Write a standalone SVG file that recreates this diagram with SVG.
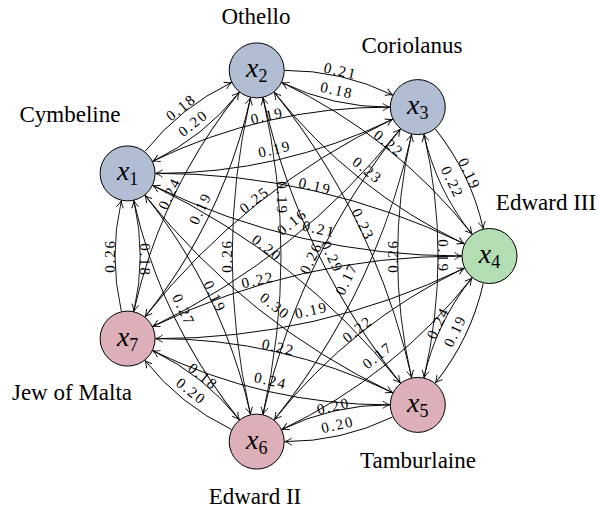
<svg xmlns="http://www.w3.org/2000/svg" width="597" height="510" viewBox="0 0 597 510">
<defs>
<style>
.e{fill:none;stroke:#000;stroke-width:0.9;marker-end:url(#arr)}
.w{font-family:"Liberation Serif",serif;font-size:15px;letter-spacing:1.8px;text-anchor:middle;fill:#000}
.nm{font-family:"Liberation Serif",serif;font-size:23px;text-anchor:middle;fill:#000}
.mx{font-family:"Liberation Serif",serif;font-size:28px;text-anchor:middle;fill:#000}
.mx .v{font-style:italic}
.mx .s{font-size:18px;font-style:normal}
.nd{stroke:#000;stroke-width:1}
.b{fill:#b1bdd3}
.g{fill:#b3ddb3}
.p{fill:#ddb0b9}
</style>
<marker id="arr" viewBox="-10 -6 12 12" markerWidth="12" markerHeight="12" refX="0" refY="0" orient="auto" markerUnits="userSpaceOnUse">
<path d="M-7,-3.6 C-4.5,-1.8 -1.6,-0.5 0,0 C-1.6,0.5 -4.5,1.8 -7,3.6" fill="none" stroke="#000" stroke-width="0.9"/>
</marker>
</defs>
<rect width="597" height="510" fill="#fff"/>
<g id="connectors">
<!-- k=1 pairs -->
<path class="e" d="M476.88 200.69 Q489.6 256 476.88 311.31" transform="rotate(25.71 299.1 256)"/>
<path class="e" d="M464.32 311.31 Q451.6 256 464.32 200.69" transform="rotate(25.71 299.1 256)"/>
<path class="e" d="M476.88 200.69 Q489.6 256 476.88 311.31" transform="rotate(77.14 299.1 256)"/>
<path class="e" d="M464.32 311.31 Q451.6 256 464.32 200.69" transform="rotate(77.14 299.1 256)"/>
<path class="e" d="M476.88 200.69 Q489.6 256 476.88 311.31" transform="rotate(128.57 299.1 256)"/>
<path class="e" d="M464.32 311.31 Q451.6 256 464.32 200.69" transform="rotate(128.57 299.1 256)"/>
<path class="e" d="M476.88 200.69 Q489.6 256 476.88 311.31" transform="rotate(180 299.1 256)"/>
<path class="e" d="M464.32 311.31 Q451.6 256 464.32 200.69" transform="rotate(180 299.1 256)"/>
<path class="e" d="M476.88 200.69 Q489.6 256 476.88 311.31" transform="rotate(231.43 299.1 256)"/>
<path class="e" d="M464.32 311.31 Q451.6 256 464.32 200.69" transform="rotate(231.43 299.1 256)"/>
<path class="e" d="M476.88 200.69 Q489.6 256 476.88 311.31" transform="rotate(282.86 299.1 256)"/>
<path class="e" d="M464.32 311.31 Q451.6 256 464.32 200.69" transform="rotate(282.86 299.1 256)"/>
<path class="e" d="M476.88 200.69 Q489.6 256 476.88 311.31" transform="rotate(334.29 299.1 256)"/>
<path class="e" d="M464.32 311.31 Q451.6 256 464.32 200.69" transform="rotate(334.29 299.1 256)"/>
<!-- k=2 pairs -->
<path class="e" d="M424.07 134.39 Q452 256 424.07 377.61" transform="rotate(51.43 299.1 256)"/>
<path class="e" d="M411.53 377.61 Q383.6 256 411.53 134.39" transform="rotate(51.43 299.1 256)"/>
<path class="e" d="M424.07 134.39 Q452 256 424.07 377.61" transform="rotate(102.86 299.1 256)"/>
<path class="e" d="M411.53 377.61 Q383.6 256 411.53 134.39" transform="rotate(102.86 299.1 256)"/>
<path class="e" d="M424.07 134.39 Q452 256 424.07 377.61" transform="rotate(154.29 299.1 256)"/>
<path class="e" d="M411.53 377.61 Q383.6 256 411.53 134.39" transform="rotate(154.29 299.1 256)"/>
<path class="e" d="M424.07 134.39 Q452 256 424.07 377.61" transform="rotate(205.71 299.1 256)"/>
<path class="e" d="M411.53 377.61 Q383.6 256 411.53 134.39" transform="rotate(205.71 299.1 256)"/>
<path class="e" d="M424.07 134.39 Q452 256 424.07 377.61" transform="rotate(257.14 299.1 256)"/>
<path class="e" d="M411.53 377.61 Q383.6 256 411.53 134.39" transform="rotate(257.14 299.1 256)"/>
<path class="e" d="M424.07 134.39 Q452 256 424.07 377.61" transform="rotate(308.57 299.1 256)"/>
<path class="e" d="M411.53 377.61 Q383.6 256 411.53 134.39" transform="rotate(308.57 299.1 256)"/>
<path class="e" d="M424.07 134.39 Q452 256 424.07 377.61"/>
<path class="e" d="M411.53 377.61 Q383.6 256 411.53 134.39"/>
<!-- k=3 pairs -->
<path class="e" d="M347.78 97.69 Q384.2 256 347.78 414.31" transform="rotate(77.14 299.1 256)"/>
<path class="e" d="M335.26 414.31 Q299.1 256 335.26 97.69" transform="rotate(77.14 299.1 256)"/>
<path class="e" d="M347.78 97.69 Q384.2 256 347.78 414.31" transform="rotate(128.57 299.1 256)"/>
<path class="e" d="M335.26 414.31 Q299.1 256 335.26 97.69" transform="rotate(128.57 299.1 256)"/>
<path class="e" d="M347.78 97.69 Q384.2 256 347.78 414.31" transform="rotate(180 299.1 256)"/>
<path class="e" d="M335.26 414.31 Q299.1 256 335.26 97.69" transform="rotate(180 299.1 256)"/>
<path class="e" d="M347.78 97.69 Q384.2 256 347.78 414.31" transform="rotate(231.43 299.1 256)"/>
<path class="e" d="M335.26 414.31 Q299.1 256 335.26 97.69" transform="rotate(231.43 299.1 256)"/>
<path class="e" d="M347.78 97.69 Q384.2 256 347.78 414.31" transform="rotate(282.86 299.1 256)"/>
<path class="e" d="M335.26 414.31 Q299.1 256 335.26 97.69" transform="rotate(282.86 299.1 256)"/>
<path class="e" d="M347.78 97.69 Q384.2 256 347.78 414.31" transform="rotate(334.29 299.1 256)"/>
<path class="e" d="M335.26 414.31 Q299.1 256 335.26 97.69" transform="rotate(334.29 299.1 256)"/>
<path class="e" d="M347.78 97.69 Q384.2 256 347.78 414.31" transform="rotate(25.71 299.1 256)"/>
<path class="e" d="M335.26 414.31 Q299.1 256 335.26 97.69" transform="rotate(25.71 299.1 256)"/>
</g>
<g id="edge-labels">
<text class="w" transform="translate(455 331) rotate(-64.29)" y="5">0.19</text>
<text class="w" transform="translate(438 323) rotate(-64.29)" y="5">0.24</text>
<text class="w" transform="translate(337.6 424.7) rotate(-12.86)" y="5">0.20</text>
<text class="w" transform="translate(333.4 406.1) rotate(-12.86)" y="5">0.20</text>
<text class="w" transform="translate(191.2 391.3) rotate(38.57)" y="5">0.20</text>
<text class="w" transform="translate(203.1 376.4) rotate(38.57)" y="5">0.18</text>
<text class="w" transform="translate(110.1 256) rotate(-90)" y="5">0.26</text>
<text class="w" transform="translate(145 260) rotate(90)" y="5">0.18</text>
<text class="w" transform="translate(181 107.5) rotate(-38.57)" y="5">0.18</text>
<text class="w" transform="translate(193.1 123.1) rotate(-38.57)" y="5">0.20</text>
<text class="w" transform="translate(340.5 71) rotate(12.86)" y="5">0.21</text>
<text class="w" transform="translate(336.9 90.3) rotate(12.86)" y="5">0.18</text>
<text class="w" transform="translate(469.4 174) rotate(64.29)" y="5">0.19</text>
<text class="w" transform="translate(452.3 182.2) rotate(64.29)" y="5">0.22</text>
<text class="w" transform="translate(377.5 355.5) rotate(-38.57)" y="5">0.17</text>
<text class="w" transform="translate(357.5 329.2) rotate(-38.57)" y="5">0.22</text>
<text class="w" transform="translate(270.7 380.6) rotate(12.86)" y="5">0.24</text>
<text class="w" transform="translate(278.3 347.3) rotate(12.86)" y="5">0.22</text>
<text class="w" transform="translate(183.5 310) rotate(64.29)" y="5">0.27</text>
<text class="w" transform="translate(214.8 296.6) rotate(64.29)" y="5">0.19</text>
<text class="w" transform="translate(169.5 193.6) rotate(-64.29)" y="5">0.24</text>
<text class="w" transform="translate(200.3 208.4) rotate(-64.29)" y="5">0.19</text>
<text class="w" transform="translate(267.1 115.8) rotate(-12.86)" y="5">0.19</text>
<text class="w" transform="translate(274.7 149.1) rotate(-12.86)" y="5">0.19</text>
<text class="w" transform="translate(388.8 143.6) rotate(38.57)" y="5">0.22</text>
<text class="w" transform="translate(367.4 170.3) rotate(38.57)" y="5">0.23</text>
<text class="w" transform="translate(442.9 256) rotate(90)" y="5">0.19</text>
<text class="w" transform="translate(392.7 256) rotate(-90)" y="5">0.26</text>
<text class="w" transform="translate(311.5 310.3) rotate(-12.86)" y="5">0.19</text>
<text class="w" transform="translate(258 280) rotate(-12.86)" y="5">0.22</text>
<text class="w" transform="translate(275 306) rotate(38.57)" y="5">0.30</text>
<text class="w" transform="translate(267 248) rotate(38.57)" y="5">0.20</text>
<text class="w" transform="translate(227.4 256) rotate(-90)" y="5">0.26</text>
<text class="w" transform="translate(282 198) rotate(90)" y="5">0.19</text>
<text class="w" transform="translate(254.4 199.9) rotate(-38.57)" y="5">0.25</text>
<text class="w" transform="translate(292 222) rotate(-38.57)" y="5">0.16</text>
<text class="w" transform="translate(315.1 186.1) rotate(12.86)" y="5">0.19</text>
<text class="w" transform="translate(319 229) rotate(12.86)" y="5">0.21</text>
<text class="w" transform="translate(363 224.5) rotate(64.29)" y="5">0.23</text>
<text class="w" transform="translate(332 257) rotate(64.29)" y="5">0.29</text>
<text class="w" transform="translate(346.5 279) rotate(-64.29)" y="5">0.17</text>
<text class="w" transform="translate(311 258) rotate(-64.29)" y="5">0.26</text>
</g>
<g id="x1">
<circle class="nd b" cx="127.6" cy="173.4" r="27.5"/>
<text class="mx" x="127.6" y="180.4"><tspan class="v">x</tspan><tspan class="s" dy="5">1</tspan></text>
<text class="nm" x="70" y="122">Cymbeline</text>
</g>
<g id="x2">
<circle class="nd b" cx="256.7" cy="70.4" r="27.5"/>
<text class="mx" x="256.7" y="77.4"><tspan class="v">x</tspan><tspan class="s" dy="5">2</tspan></text>
<text class="nm" x="256" y="24">Othello</text>
</g>
<g id="x3">
<circle class="nd b" cx="417.8" cy="107.1" r="27.5"/>
<text class="mx" x="417.8" y="114.1"><tspan class="v">x</tspan><tspan class="s" dy="5">3</tspan></text>
<text class="nm" x="412" y="53">Coriolanus</text>
</g>
<g id="x4">
<circle class="nd g" cx="489.5" cy="256" r="27.5"/>
<text class="mx" x="489.5" y="263"><tspan class="v">x</tspan><tspan class="s" dy="5">4</tspan></text>
<text class="nm" x="546" y="210">Edward III</text>
</g>
<g id="x5">
<circle class="nd p" cx="417.8" cy="404.9" r="27.5"/>
<text class="mx" x="417.8" y="411.9"><tspan class="v">x</tspan><tspan class="s" dy="5">5</tspan></text>
<text class="nm" x="418" y="468">Tamburlaine</text>
</g>
<g id="x6">
<circle class="nd p" cx="256.7" cy="441.6" r="27.5"/>
<text class="mx" x="256.7" y="448.6"><tspan class="v">x</tspan><tspan class="s" dy="5">6</tspan></text>
<text class="nm" x="255" y="504">Edward II</text>
</g>
<g id="x7">
<circle class="nd p" cx="127.6" cy="338.6" r="27.5"/>
<text class="mx" x="127.6" y="345.6"><tspan class="v">x</tspan><tspan class="s" dy="5">7</tspan></text>
<text class="nm" x="72" y="400">Jew of Malta</text>
</g>
</svg>
